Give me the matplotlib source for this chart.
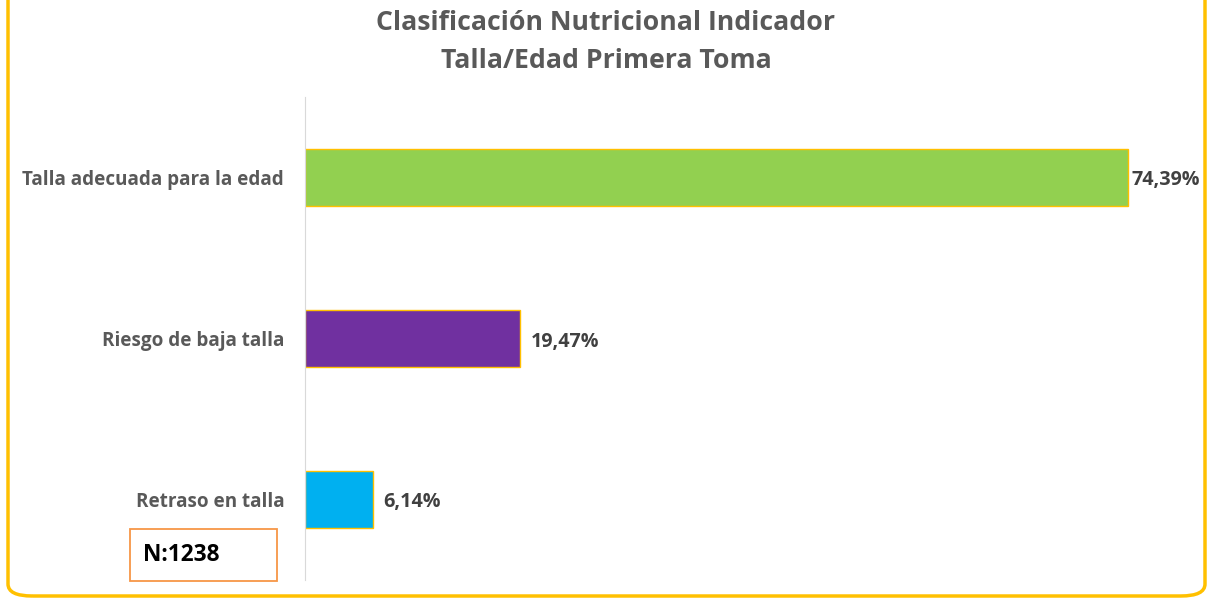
import matplotlib.pyplot as plt
from matplotlib.patches import FancyBboxPatch, Rectangle

categories = ['Retraso en talla', 'Riesgo de baja talla', 'Talla adecuada para la edad']
values = [6.14, 19.47, 74.39]
value_labels = ['6,14%', '19,47%', '74,39%']
bar_colors = ['#00B0F0', '#7030A0', '#92D050']
title = 'Clasificación Nutricional Indicador\nTalla/Edad Primera Toma'
n_text = 'N:1238'

plt.rcParams['font.family'] = ['Open Sans', 'DejaVu Sans']

W, H = 1211, 599
fig = plt.figure(figsize=(W / 100, H / 100), dpi=100)

# yellow rounded frame
frame = FancyBboxPatch((8 / W, 3 / H), 1197 / W, 620 / H,
                       boxstyle='round,pad=0,rounding_size=0.02',
                       transform=fig.transFigure, fill=False,
                       edgecolor='#FFC000', linewidth=2.5)
fig.add_artist(frame)

ax = fig.add_axes([305 / W, (H - 580) / H, 885 / W, 483 / H])
y = range(len(categories))
ax.barh(y, values, height=0.355, color=bar_colors, edgecolor='#FFC000', linewidth=1)
ax.set_xlim(0, 80)
ax.set_ylim(-0.5, 2.5)
ax.set_yticks(list(y))
ax.set_yticklabels(categories, fontsize=13.6, fontweight='bold', color='#595959')
ax.tick_params(axis='y', length=0, pad=15)
ax.set_xticks([])
for s in ['top', 'right', 'bottom']:
    ax.spines[s].set_visible(False)
ax.spines['left'].set_color('#D9D9D9')

for yi, v, lab in zip(y, values, value_labels):
    off = 4 if v > 70 else 10
    ax.annotate(lab, (v, yi), xytext=(off, -3), textcoords='offset pixels',
                va='center', ha='left', fontsize=14.2, fontweight='bold', color='#404040')

fig.text(606 / W, 1 - 42 / H, title, ha='center', va='center', fontsize=19.2,
         fontweight='bold', color='#595959', linespacing=1.65)

box = Rectangle((130 / W, (H - 581) / H), 147 / W, 52 / H, transform=fig.transFigure,
                fill=False, edgecolor='#F79646', linewidth=1.3)
fig.add_artist(box)
fig.text(143 / W, 1 - 555 / H, n_text, ha='left', va='center', fontsize=16.3,
         fontweight='bold', color='black')

fig.savefig('out.png', dpi=100)
